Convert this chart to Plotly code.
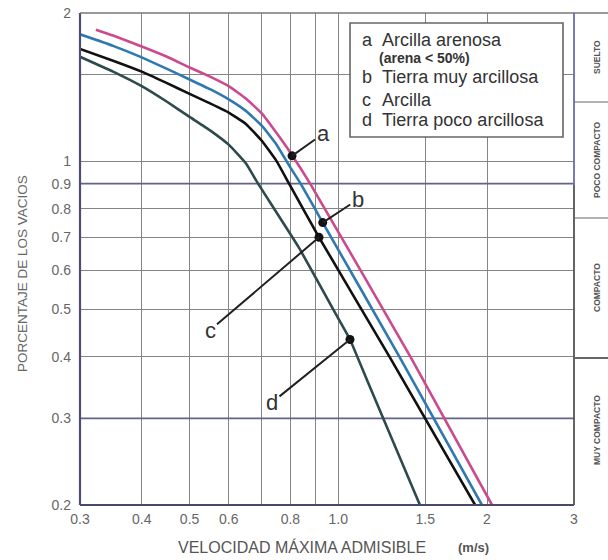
import numpy as np
import plotly.graph_objects as go

# ---- data ----
a_x = [0.323, 0.35, 0.4, 0.45, 0.5, 0.55, 0.6, 0.65, 0.7, 0.75, 0.8, 0.877, 1.40, 2.047]
a_y = [1.85, 1.80, 1.71, 1.63, 1.55, 1.485, 1.42, 1.34, 1.25, 1.14, 1.04, 0.9, 0.4, 0.2]

b_x = [0.3, 0.35, 0.4, 0.45, 0.5, 0.55, 0.6, 0.65, 0.7, 0.75, 0.8, 0.839, 0.93, 1.33, 1.953]
b_y = [1.81, 1.715, 1.625, 1.54, 1.465, 1.40, 1.335, 1.265, 1.18, 1.08, 0.97, 0.9, 0.75, 0.4, 0.2]

c_x = [0.3, 0.35, 0.4, 0.45, 0.5, 0.55, 0.6, 0.65, 0.7, 0.75, 0.795, 0.914, 1.27, 1.892]
c_y = [1.69, 1.60, 1.52, 1.44, 1.37, 1.31, 1.255, 1.19, 1.10, 1.0, 0.9, 0.70, 0.4, 0.2]

d_x = [0.3, 0.35, 0.4, 0.45, 0.5, 0.55, 0.6, 0.65, 0.688, 0.83, 0.985, 1.056, 1.143, 1.463]
d_y = [1.63, 1.52, 1.42, 1.32, 1.23, 1.155, 1.08, 0.99, 0.9, 0.67, 0.492, 0.434, 0.359, 0.2]

curve_letters = ["a", "b", "c", "d"]
curve_names = ["Arcilla arenosa", "Tierra muy arcillosa", "Arcilla", "Tierra poco arcillosa"]
mark_x = [0.806, 0.93, 0.914, 1.056]
mark_y = [1.025, 0.75, 0.70, 0.434]

limit_levels = [0.9, 0.3]
x_range = [0.3, 3]
y_range = [0.2, 2]

x_ticks = [0.3, 0.4, 0.5, 0.6, 0.7, 0.8, 0.9, 1.0, 1.5, 2, 3]
x_ticktext = ["0.3", "0.4", "0.5", "0.6", "", "0.8", "", "1.0", "1.5", "2", "3"]
y_ticks = [0.2, 0.3, 0.4, 0.5, 0.6, 0.7, 0.8, 0.9, 1, 1.5, 2]
y_ticktext = ["0.2", "0.3", "0.4", "0.5", "0.6", "0.7", "0.8", "0.9", "1", "", "2"]

zones = ["SUELTO", "POCO COMPACTO", "COMPACTO", "MUY COMPACTO"]

# ---- figure ----
FONT = "Liberation Sans, Arial, sans-serif"
W, H = 608, 560
ML, MR, MT, MB = 80, 34, 13, 55
PW, PH = W - ML - MR, H - MT - MB

def px_x(p):
    return (p - ML) / PW

def px_y(p):
    return (H - MB - p) / PH

colors = ["#cc4a8c", "#2f78b0", "#111111", "#2e4a4c"]

fig = go.Figure()

# limit lines
for lv in limit_levels:
    fig.add_trace(go.Scatter(x=x_range, y=[lv, lv], mode="lines",
                             line=dict(color="#62628c", width=1.6),
                             hoverinfo="skip", showlegend=False))

for xs, ys, col, nm in zip([a_x, b_x, c_x, d_x], [a_y, b_y, c_y, d_y], colors, curve_names):
    fig.add_trace(go.Scatter(x=xs, y=ys, mode="lines", name=nm,
                             line=dict(color=col, width=2.6, shape="spline", smoothing=0.35),
                             showlegend=False))

fig.add_trace(go.Scatter(x=mark_x, y=mark_y, mode="markers",
                         marker=dict(color="#111", size=9), showlegend=False,
                         hoverinfo="skip"))

# letter callouts
offsets = [(31, -22), (35, -23), (-109, 93), (-78, 63)]
for L, mx, my, (ax, ay) in zip(curve_letters, mark_x, mark_y, offsets):
    fig.add_annotation(x=np.log10(mx), y=np.log10(my), xref="x", yref="y",
                       text=L, showarrow=True, arrowhead=0, arrowwidth=2,
                       arrowcolor="#222", ax=ax, ay=ay, standoff=0,
                       font=dict(family=FONT, size=22, color="#333"))

shapes = []
# plot borders
shapes.append(dict(type="line", xref="paper", yref="paper", x0=0, x1=0, y0=0, y1=1,
                   line=dict(color="#4d4d78", width=2.2)))
shapes.append(dict(type="line", xref="paper", yref="paper", x0=0, x1=1, y0=0, y1=0,
                   line=dict(color="#4a4a6c", width=2.2)))
shapes.append(dict(type="line", xref="paper", yref="paper", x0=0, x1=px_x(608), y0=1, y1=1,
                   line=dict(color="#777", width=1.6)))
shapes.append(dict(type="line", xref="paper", yref="paper", x0=1, x1=1, y0=px_y(185), y1=1,
                   line=dict(color="#6b6bb0", width=1.8)))
shapes.append(dict(type="line", xref="paper", yref="paper", x0=1, x1=1, y0=0, y1=px_y(185),
                   line=dict(color="#555", width=1.8)))
# zone separators
for py, w in [(102, 1.2), (218, 1.2), (358, 2.2)]:
    shapes.append(dict(type="line", xref="paper", yref="paper", x0=1, x1=px_x(608),
                       y0=px_y(py), y1=px_y(py), line=dict(color="#666", width=w)))
# legend box
shapes.append(dict(type="rect", xref="paper", yref="paper", x0=px_x(350), x1=px_x(563),
                   y0=px_y(137), y1=px_y(23), line=dict(color="#666", width=1.6),
                   fillcolor="white", layer="above"))

fig.update_layout(shapes=shapes)

# legend texts
leg_rows = [40, 77, 100, 120]
for L, nm, py in zip(curve_letters, curve_names, leg_rows):
    fig.add_annotation(x=px_x(360), y=px_y(py), xref="paper", yref="paper",
                       text=L, showarrow=False, xanchor="left", yanchor="middle",
                       font=dict(family=FONT, size=18, color="#333"))
    fig.add_annotation(x=px_x(380), y=px_y(py), xref="paper", yref="paper",
                       text=nm, showarrow=False, xanchor="left", yanchor="middle",
                       font=dict(family=FONT, size=18, color="#333"))
fig.add_annotation(x=px_x(377), y=px_y(58), xref="paper", yref="paper",
                   text="<b>(arena &lt; 50%)</b>", showarrow=False, xanchor="left",
                   yanchor="middle", font=dict(family=FONT, size=14, color="#333"))

# zone labels
for z, py in zip(zones, [57, 160, 288, 430]):
    fig.add_annotation(x=px_x(597), y=px_y(py), xref="paper", yref="paper",
                       text="<b>" + z + "</b>", textangle=-90, showarrow=False,
                       xanchor="center", yanchor="middle",
                       font=dict(family=FONT, size=8.5, color="#555"))

# axis titles
fig.add_annotation(x=px_x(22), y=px_y(274), xref="paper", yref="paper",
                   text="PORCENTAJE DE LOS VACIOS", textangle=-90, showarrow=False,
                   xanchor="center", yanchor="middle",
                   font=dict(family=FONT, size=13.5, color="#666"))
fig.add_annotation(x=px_x(176), y=px_y(547), xref="paper", yref="paper",
                   text="VELOCIDAD MÁXIMA ADMISIBLE", showarrow=False, xanchor="left",
                   yanchor="middle", font=dict(family=FONT, size=16, color="#555"))
fig.add_annotation(x=px_x(456), y=px_y(547), xref="paper", yref="paper",
                   text="<b>(m/s)</b>", showarrow=False, xanchor="left",
                   yanchor="middle", font=dict(family=FONT, size=13, color="#555"))

fig.update_xaxes(type="log", range=[np.log10(x_range[0]), np.log10(x_range[1])],
                 tickmode="array", tickvals=x_ticks, ticktext=x_ticktext,
                 showgrid=True, gridcolor="#858585", gridwidth=1.2,
                 zeroline=False, showline=False, ticks="", ticklabelstandoff=4,
                 tickfont=dict(family=FONT, size=14, color="#666"))
fig.update_yaxes(type="log", range=[np.log10(y_range[0]), np.log10(y_range[1])],
                 tickmode="array", tickvals=y_ticks, ticktext=y_ticktext,
                 showgrid=True, gridcolor="#858585", gridwidth=1.2,
                 zeroline=False, showline=False, ticks="", ticklabelstandoff=8,
                 tickfont=dict(family=FONT, size=14, color="#666"))

fig.update_layout(width=W, height=H, margin=dict(l=ML, r=MR, t=MT, b=MB, autoexpand=False),
                  paper_bgcolor="white", plot_bgcolor="white", showlegend=False)

fig.write_html("out.html", config={"displayModeBar": False},
               post_script="document.body.style.margin='0px';")
